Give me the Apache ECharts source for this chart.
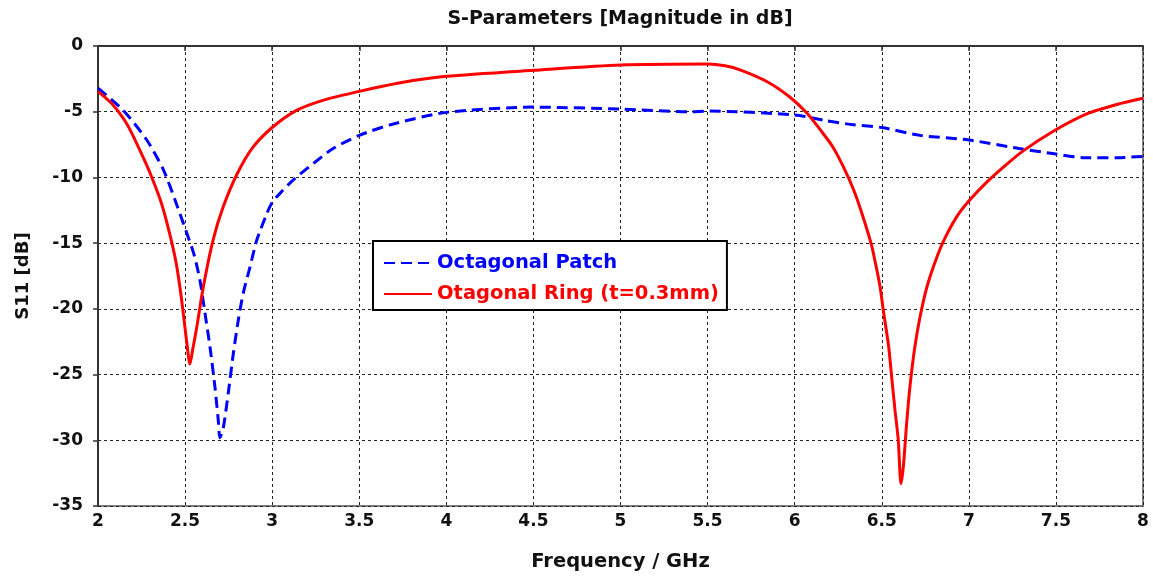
<!DOCTYPE html>
<html>
<head>
<meta charset="utf-8">
<script src="https://cdn.jsdelivr.net/npm/echarts@6/dist/echarts.min.js"></script>
<style>
  html, body { margin: 0; padding: 0; background: #fff; }
  #chart { width: 1153px; height: 577px; }
</style>
</head>
<body>
<div id="chart"></div>
<script>
// S11 of the octagonal patch (blue, dashed) and the octagonal ring (red)
const patchFreq = [2.0, 2.145, 2.28, 2.375, 2.45, 2.51, 2.55, 2.585, 2.614, 2.643, 2.671, 2.69, 2.7,
  2.72, 2.748, 2.777, 2.805, 2.834, 2.873, 2.911, 2.968, 3.0, 3.06, 3.12, 3.24, 3.35, 3.5, 3.69,
  4.0, 4.5, 5.0, 5.4, 5.5, 6.0, 6.18, 6.34, 6.5, 6.72, 7.0, 7.29, 7.49, 7.67, 7.85, 8.0];
const patchS11 = [-3.2, -4.9, -7.15, -9.4, -12.0, -14.25, -15.8, -17.8, -20.3, -22.9, -25.9, -28.4, -29.8,
  -29.0, -26.4, -23.4, -20.9, -18.8, -16.8, -14.8, -12.8, -11.9, -11.0, -10.2, -8.9, -7.8, -6.8, -5.95,
  -5.05, -4.65, -4.8, -5.0, -4.95, -5.25, -5.68, -6.0, -6.2, -6.8, -7.15, -7.8, -8.2, -8.5, -8.5, -8.4];

const ringFreq = [2.0, 2.08, 2.16, 2.2, 2.26, 2.3, 2.36, 2.41, 2.45, 2.48, 2.51, 2.528, 2.545, 2.567,
  2.605, 2.66, 2.72, 2.8, 2.89, 3.0, 3.14, 3.3, 3.5, 3.62, 3.8, 4.0, 4.5, 5.0, 5.5, 5.6, 5.69, 5.84,
  5.97, 6.07, 6.16, 6.22, 6.28, 6.34, 6.39, 6.44, 6.465, 6.49, 6.51, 6.54, 6.557, 6.576, 6.595, 6.61,
  6.624, 6.643, 6.662, 6.69, 6.72, 6.76, 6.81, 6.86, 6.93, 7.0, 7.1, 7.2, 7.31, 7.49, 7.68, 7.85, 8.0];
const ringS11 = [-3.45, -4.4, -5.8, -6.8, -8.5, -9.7, -11.8, -14.2, -16.6, -19.3, -22.6, -24.2, -23.0, -21.4,
  -18.3, -14.8, -12.2, -9.7, -7.7, -6.2, -4.9, -4.1, -3.45, -3.1, -2.65, -2.3, -1.85, -1.45, -1.37, -1.5, -1.83, -2.7,
  -3.86, -5.1, -6.6, -7.7, -9.2, -11.0, -12.9, -15.1, -16.6, -18.3, -20.2, -22.9, -25.2, -27.7, -30.0, -33.3,
  -32.0, -28.7, -25.9, -22.9, -20.6, -18.3, -16.3, -14.7, -13.0, -11.8, -10.4, -9.2, -8.0, -6.45, -5.15, -4.45, -3.98];

const seriesNames = ['Octagonal Patch', 'Otagonal Ring (t=0.3mm)'];
const seriesColors = ['#0000ff', '#ff0000'];

const pairs = (xs, ys) => xs.map((x, i) => [x, ys[i]]);
const FONT = 'DejaVu Sans';
const INK = '#111';

const chart = echarts.init(document.getElementById('chart'), null, { renderer: 'canvas' });
chart.setOption({
  animation: false,
  backgroundColor: '#ffffff',
  title: {
    text: 'S-Parameters [Magnitude in dB]',
    left: 615, top: 5, textAlign: 'center',
    textStyle: { fontFamily: FONT, fontWeight: 'bold', fontSize: 19, color: INK }
  },
  grid: {
    left: 98, right: 10, top: 46, bottom: 71,
    show: true, borderColor: '#555', borderWidth: 1.5, backgroundColor: 'transparent'
  },
  legend: {
    orient: 'vertical', left: 373, top: 241,
    padding: [11, 8, 5, 10],
    itemWidth: 48, itemHeight: 14, itemGap: 9,
    backgroundColor: '#ffffff', borderColor: '#000', borderWidth: 2,
    itemStyle: { opacity: 0 },
    data: seriesNames.map((n, i) => ({
      name: n,
      textStyle: { color: seriesColors[i], fontFamily: FONT, fontWeight: 'bold', fontSize: 19.5, lineHeight: 22 }
    }))
  },
  xAxis: {
    type: 'value', min: 2, max: 8, interval: 0.5,
    name: 'Frequency / GHz', nameLocation: 'middle', nameGap: 46,
    nameTextStyle: { fontFamily: FONT, fontWeight: 'bold', fontSize: 19.5, color: INK },
    axisLine: { lineStyle: { color: '#333', width: 2 } },
    axisTick: { show: true, length: 5, lineStyle: { color: '#333', width: 1.5 } },
    axisLabel: { fontFamily: FONT, fontWeight: 'bold', fontSize: 17, color: INK, margin: 7 },
    splitLine: { show: true, lineStyle: { color: '#222', type: [3, 3], width: 1 } }
  },
  yAxis: {
    type: 'value', min: -35, max: 0, interval: 5,
    name: 'S11 [dB]', nameLocation: 'middle', nameGap: 66, nameRotate: 90,
    nameTextStyle: { fontFamily: FONT, fontWeight: 'bold', fontSize: 18, color: INK },
    axisLine: { show: true, lineStyle: { color: '#333', width: 2 } },
    axisTick: { show: true, length: 5, lineStyle: { color: '#333', width: 1.5 } },
    axisLabel: { fontFamily: FONT, fontWeight: 'bold', fontSize: 17, color: INK, margin: 15 },
    splitLine: { show: true, lineStyle: { color: '#222', type: [3, 3], width: 1 } }
  },
  series: [
    {
      name: seriesNames[0], type: 'line', data: pairs(patchFreq, patchS11),
      showSymbol: false, symbol: 'none', smooth: 0.25, z: 3,
      lineStyle: { color: seriesColors[0], width: 3, type: [11, 6] },
      itemStyle: { color: seriesColors[0] }
    },
    {
      name: seriesNames[1], type: 'line', data: pairs(ringFreq, ringS11),
      showSymbol: false, symbol: 'none', smooth: 0.25, z: 4,
      lineStyle: { color: seriesColors[1], width: 3 },
      itemStyle: { color: seriesColors[1] }
    }
  ]
});
</script>
</body>
</html>
